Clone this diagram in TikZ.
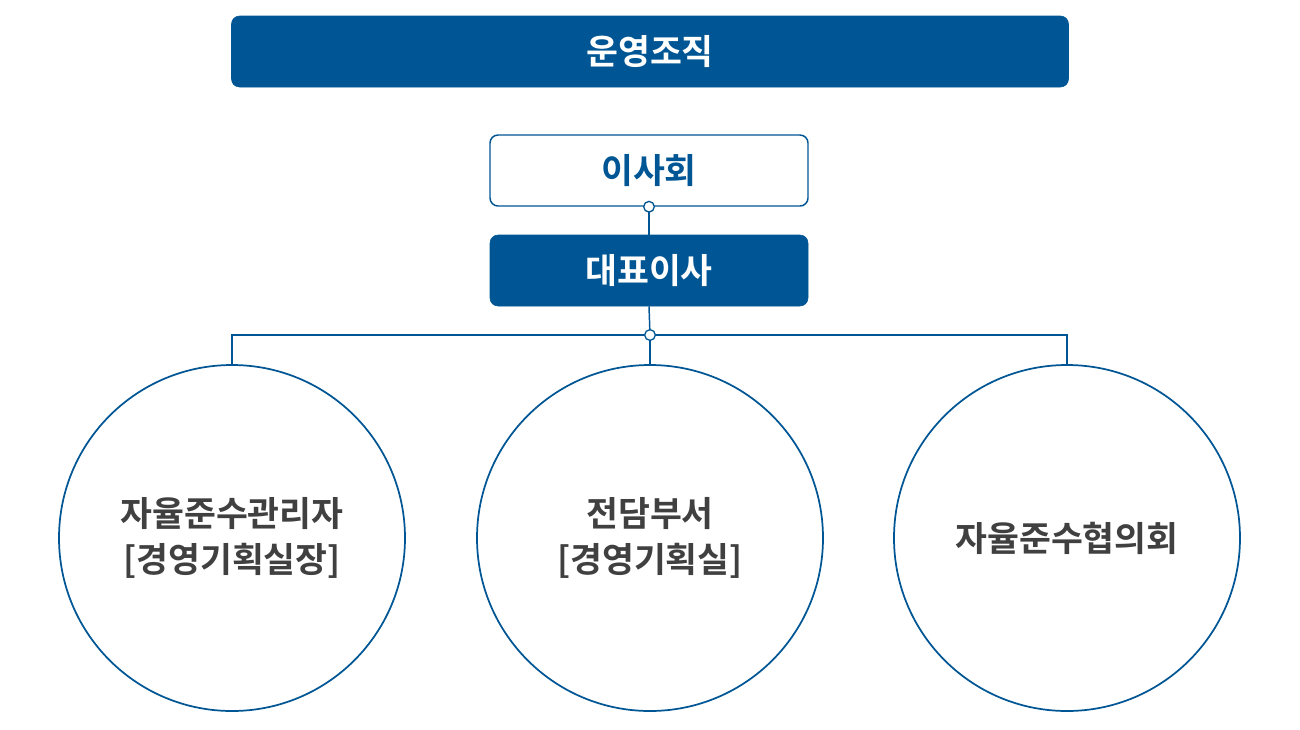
\documentclass[tikz,border=0pt]{standalone}
\usepackage{fontspec}
\setmainfont{Noto Sans CJK KR}[BoldFont={Noto Sans CJK KR Bold}]
\definecolor{navy}{HTML}{005694}
\definecolor{txt}{HTML}{404040}
\begin{document}
\begin{tikzpicture}[x=0.75pt,y=-0.75pt,
  bar/.style={draw=navy,fill=navy,rounded corners=6pt,text=white,font=\bfseries\fontsize{26}{30}\selectfont,inner sep=0pt},
  obox/.style={draw=navy,line width=1.1pt,fill=white,rounded corners=6pt,text=navy,font=\bfseries\fontsize{26}{30}\selectfont,inner sep=0pt},
  circ/.style={circle,draw=navy,line width=1.3pt,minimum size=346*0.75pt,inner sep=0pt,text=txt,font=\bfseries\fontsize{26}{34}\selectfont,align=center},
  dot/.style={circle,draw=navy,fill=white,line width=1pt,minimum size=8pt,inner sep=0pt},
  ln/.style={draw=navy,line width=1.1pt}]
\useasboundingbox (0,0) rectangle (1300,729);
\node[bar,minimum width=837*0.75pt,minimum height=71*0.75pt] (title) at (650,51.5) {운영조직};
\node[obox,minimum width=318*0.75pt,minimum height=71*0.75pt] (board) at (649,170.5) {이사회};
\node[bar,minimum width=318*0.75pt,minimum height=71*0.75pt] (ceo) at (649,270.5) {대표이사};
\node[circ] (c1) at (232,538) {자율준수관리자\\{[}경영기획실장{]}};
\node[circ] (c2) at (650,538) {전담부서\\{[}경영기획실{]}};
\node[circ] (c3) at (1067,538) {자율준수협의회};
\coordinate (j) at (650,335);
\draw[ln] (board.south) -- (ceo.north);
\draw[ln] (ceo.south) -- (j);
\draw[ln] (c1.north) -- (232,335) -- (1067,335) -- (c3.north);
\draw[ln] (j) -- (c2.north);
\node[dot] (d1) at (board.south) {};
\node[dot] (d2) at (j) {};
\end{tikzpicture}
\end{document}
